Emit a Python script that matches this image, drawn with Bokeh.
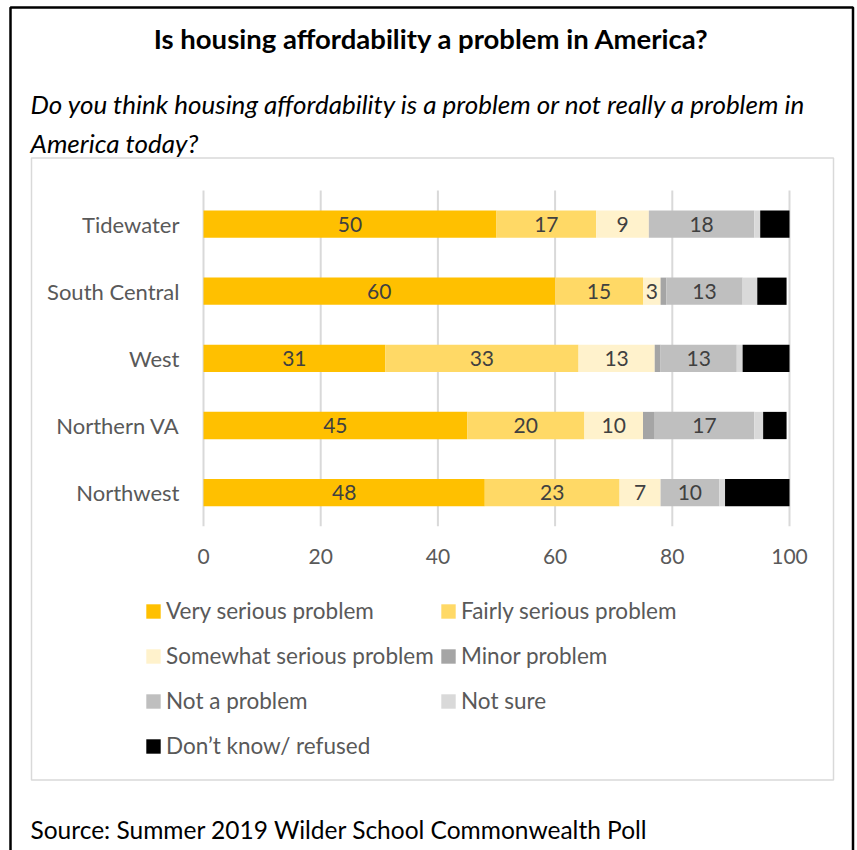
from bokeh.plotting import figure
from bokeh.models import (Range1d, FactorRange, ColumnDataSource, Label, BoxAnnotation,
                          Legend, LegendItem, LabelSet, FixedTicker, LinearAxis,
                          CategoricalAxis)
from bokeh.core.properties import value
from bokeh.embed import file_html
from bokeh.resources import INLINE

# ---------------- data ----------------
regions = ["Tidewater", "South Central", "West", "Northern VA", "Northwest"]
series_names = ["Very serious problem", "Fairly serious problem", "Somewhat serious problem",
                "Minor problem", "Not a problem", "Not sure", "Don\u2019t know/ refused"]
very_serious = [50, 60, 31, 45, 48]
fairly_serious = [17, 15, 33, 20, 23]
somewhat_serious = [9, 3, 13, 10, 7]
minor_problem = [0, 1, 1, 2, 0]
not_a_problem = [18, 13, 13, 17, 10]
not_sure = [1, 2.5, 1, 1.5, 1]
dont_know = [5, 5, 8, 4, 11]
x_ticks = [0, 20, 40, 60, 80, 100]
labelled_series = [0, 1, 2, 4]

title_text = "Is housing affordability a problem in America?"
subtitle_1 = "Do you think housing affordability is a problem or not really a problem in"
subtitle_2 = "America today?"
source_text = "Source: Summer 2019 Wilder School Commonwealth Poll"

# ---------------- style ----------------
colors = ["#FFC000", "#FFD966", "#FFF2CC", "#A5A5A5", "#BFBFBF", "#D9D9D9", "#000000"]
FONT = "Lato"
W, H = 857, 850
PX_PER_UNIT = 5.86          # 0 -> x=203 px, 100 -> x=789 px
X0_PX = 203
pad_factors = [" ", "  "]   # empty bands below the chart area (legend space)

values = [very_serious, fairly_serious, somewhat_serious, minor_problem,
          not_a_problem, not_sure, dont_know]
keys = ["s%d" % i for i in range(len(values))]

data = {"region": regions}
for k, v in zip(keys, values):
    data[k] = v
src = ColumnDataSource(data)

y_factors = pad_factors + list(reversed(regions))
p = figure(width=W, height=H, output_backend="svg", toolbar_location=None,
           x_range=Range1d(-X0_PX / PX_PER_UNIT, (W - X0_PX) / PX_PER_UNIT),
           y_range=FactorRange(factors=y_factors, range_padding=2.8298,
                               range_padding_units="absolute"),
           x_axis_location=None, y_axis_location=None, min_border=0)
p.outline_line_color = None
p.background_fill_color = "white"
p.border_fill_color = "white"
p.grid.visible = False

chart_bottom = float(len(pad_factors))
chart_top = float(len(y_factors))

# vertical gridlines over the chart area
p.segment(x0=x_ticks, x1=x_ticks, y0=[chart_bottom] * len(x_ticks),
          y1=[chart_top] * len(x_ticks), line_color="#D9D9D9", line_width=2)

renderers = p.hbar_stack(keys, y="region", height=0.406, color=colors,
                         line_color=None, source=src)

# segment labels
lx, ly, lt = [], [], []
for j, reg in enumerate(regions):
    cum = 0
    for i, v in enumerate(values):
        if i in labelled_series:
            lx.append(cum + v[j] / 2.0)
            ly.append(reg)
            lt.append("%d" % v[j])
        cum += v[j]
lab_src = ColumnDataSource(dict(x=lx, y=ly, t=lt))
p.add_layout(LabelSet(x="x", y="y", text="t", source=lab_src, text_align="center",
                      text_baseline="middle", text_font=value(FONT),
                      text_font_size="21px", text_color="#404040"))

# axes drawn at fixed locations
xaxis = LinearAxis(fixed_location=chart_bottom, ticker=FixedTicker(ticks=x_ticks))
yaxis = CategoricalAxis(fixed_location=0)
for ax in (xaxis, yaxis):
    ax.axis_line_color = None
    ax.major_tick_line_color = None
    ax.minor_tick_line_color = None
    ax.major_tick_out = 0
    ax.major_tick_in = 0
    ax.major_label_text_font = FONT
    ax.major_label_text_color = "#595959"
xaxis.major_label_text_font_size = "21px"
yaxis.major_label_text_font_size = "22px"
xaxis.major_label_standoff = 23
yaxis.major_label_standoff = 24
p.add_layout(xaxis, "below")
p.add_layout(yaxis, "left")

# frames (screen units: y measured up from the bottom)
p.add_layout(BoxAnnotation(left=10, right=852.5, top=H - 7, bottom=-10,
                           left_units="screen", right_units="screen",
                           top_units="screen", bottom_units="screen",
                           fill_color=None, line_color="black", line_alpha=1.0,
                           line_width=2.5))
p.add_layout(BoxAnnotation(left=31, right=833, top=H - 157.5, bottom=H - 779.5,
                           left_units="screen", right_units="screen",
                           top_units="screen", bottom_units="screen",
                           fill_color=None, line_color="#D9D9D9", line_alpha=1.0,
                           line_width=1.5))

# texts
def add_text(x, y_from_top, text, size, style="normal", align="left"):
    p.add_layout(Label(x=x, y=H - y_from_top, x_units="screen", y_units="screen",
                       text=text, text_align=align, text_baseline="middle",
                       text_font=FONT, text_font_style=style, text_font_size=size,
                       text_color="black"))

add_text(431, 38, title_text, "27.5px", "bold", "center")
add_text(30, 103, subtitle_1, "26px", "italic")
add_text(30, 142, subtitle_2, "26px", "italic")
add_text(30, 829, source_text, "24.5px")

# legend: one legend per entry, laid out in two columns
leg_pos = [(0, 0), (1, 0), (0, 1), (1, 1), (0, 2), (1, 2), (0, 3)]
col_x = [144, 439]
row_y = [226, 181, 136, 91]
for i, (c, r) in enumerate(leg_pos):
    lg = Legend(items=[LegendItem(label=series_names[i], renderers=[renderers[i]])],
                location=(col_x[c], row_y[r]), orientation="horizontal",
                glyph_width=18, glyph_height=18, label_standoff=4,
                padding=0, margin=0,
                border_line_color=None, background_fill_alpha=0,
                label_text_font=FONT, label_text_font_size="22.5px",
                label_text_color="#595959", label_height=14)
    p.add_layout(lg)

open("out.html", "w").write(file_html(p, INLINE))
